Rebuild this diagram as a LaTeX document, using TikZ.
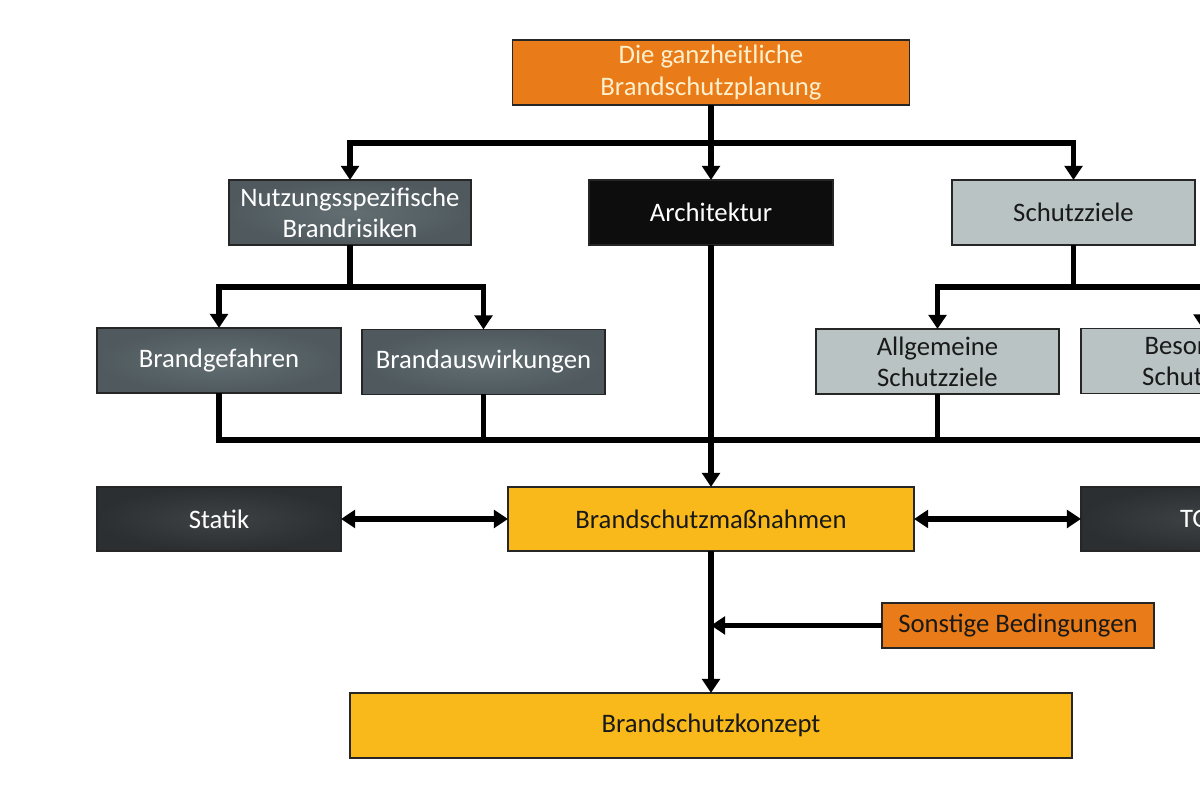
\documentclass[tikz,border=0pt]{standalone}
\usepackage{fontspec}
\setmainfont{Carlito}
\usepackage{xcolor}
\usepackage{tikz}
\usetikzlibrary{arrows.meta}
\definecolor{planorange}{RGB}{233,123,24}
\definecolor{planyellow}{RGB}{249,185,27}
\definecolor{planlight}{RGB}{185,195,196}
\definecolor{plancream}{RGB}{255,240,205}

\begin{document}
\begin{tikzpicture}[
    box/.style={draw=black!85,line width=0.5pt,inner sep=0pt,outer sep=0pt,
      align=center,minimum height=6.5mm,minimum width=24.3mm,
      font=\fontsize{7.6}{8.9}\selectfont},
    midgrey/.style={box,inner color={rgb,255:red,98;green,110;blue,114},
      outer color={rgb,255:red,80;green,90;blue,94},text=white},
    darkgrey/.style={box,inner color={rgb,255:red,62;green,66;blue,68},
      outer color={rgb,255:red,44;green,47;blue,49},text=white},
    lightgrey/.style={box,fill=planlight,text=black!90},
    yellowbox/.style={box,fill=planyellow,text=black!90},
    orangebox/.style={box,fill=planorange},
    line/.style={line width=1.5pt},
    arr/.style={line,-{Triangle[width=5pt,length=4pt]}},
    darr/.style={line,{Triangle[width=5pt,length=4pt]}-{Triangle[width=5pt,length=4pt]}}
  ]
    \useasboundingbox (0,0) rectangle (12,8);
    \clip (0,0) rectangle (12,8);
    %
    \node[orangebox,text=plancream,minimum width=39.7mm] (planung) at (7.11,7.275)
      {Die ganzheitliche\\Brandschutzplanung};
    \node[midgrey,minimum width=24.2mm] (risiken) at (3.50,5.875)
      {Nutzungsspezifische\\Brandrisiken};
    \node[box,fill=black!95,text=white,minimum width=24.4mm] (architektur) at (7.11,5.875)
      {Architektur};
    \node[lightgrey] (schutzziele) at (10.735,5.875) {Schutzziele};
    %
    \node[midgrey,minimum width=24.4mm] (gefahren) at (2.19,4.395) {Brandgefahren};
    \node[midgrey] (auswirkungen) at (4.835,4.38) {Brandauswirkungen};
    \node[lightgrey] (allgemein) at (9.375,4.385) {Allgemeine\\Schutzziele};
    \node[lightgrey] (besonders) at (12.025,4.39) {Besondere\\Schutzziele};
    %
    \node[darkgrey,minimum width=24.4mm,minimum height=6.4mm] (statik) at (2.19,2.81) {Statik};
    \node[yellowbox,minimum width=40.6mm,minimum height=6.4mm] (massnahmen) at (7.11,2.81)
      {Brandschutzmaßnahmen};
    \node[darkgrey,minimum height=6.4mm] (tga) at (12.025,2.81) {TGA};
    \node[orangebox,text=black!90,minimum width=27.2mm,minimum height=4.5mm] (sonstige)
      at (10.18,1.745) {Sonstige Bedingungen};
    \node[yellowbox,minimum width=72.2mm] (konzept) at (7.11,0.745) {Brandschutzkonzept};
    %
    \coordinate (topbar) at (7.11,6.57);
    \coordinate (risikobar) at (3.50,5.13);
    \coordinate (zielbar) at (10.735,5.13);
    \coordinate (sammel) at (7.11,3.60);
    %
    \draw[arr] (planung.south) -- (topbar) -| (risiken.north);
    \draw[arr] (topbar) -| (schutzziele.north);
    \draw[arr] (topbar) -- (architektur.north);
    \draw[arr] (risiken.south) -- (risikobar) -| (gefahren.north);
    \draw[arr] (risikobar) -| (auswirkungen.north);
    \draw[arr] (schutzziele.south) -- (zielbar) -| (allgemein.north);
    \draw[arr] (zielbar) -| (besonders.north);
    %
    \draw[line] (gefahren.south) |- (sammel);
    \draw[line] (auswirkungen.south) |- (sammel);
    \draw[line] (allgemein.south) |- (sammel);
    \draw[line] (besonders.south) |- (sammel);
    \draw[arr] (architektur.south) -- (massnahmen.north);
    %
    \draw[darr] (statik.east) -- (massnahmen.west);
    \draw[darr] (massnahmen.east) -- (tga.west);
    \draw[arr] (massnahmen.south) -- (konzept.north);
    \draw[arr] (sonstige.west) -- (sonstige.west -| konzept.north);
\end{tikzpicture}
\end{document}
